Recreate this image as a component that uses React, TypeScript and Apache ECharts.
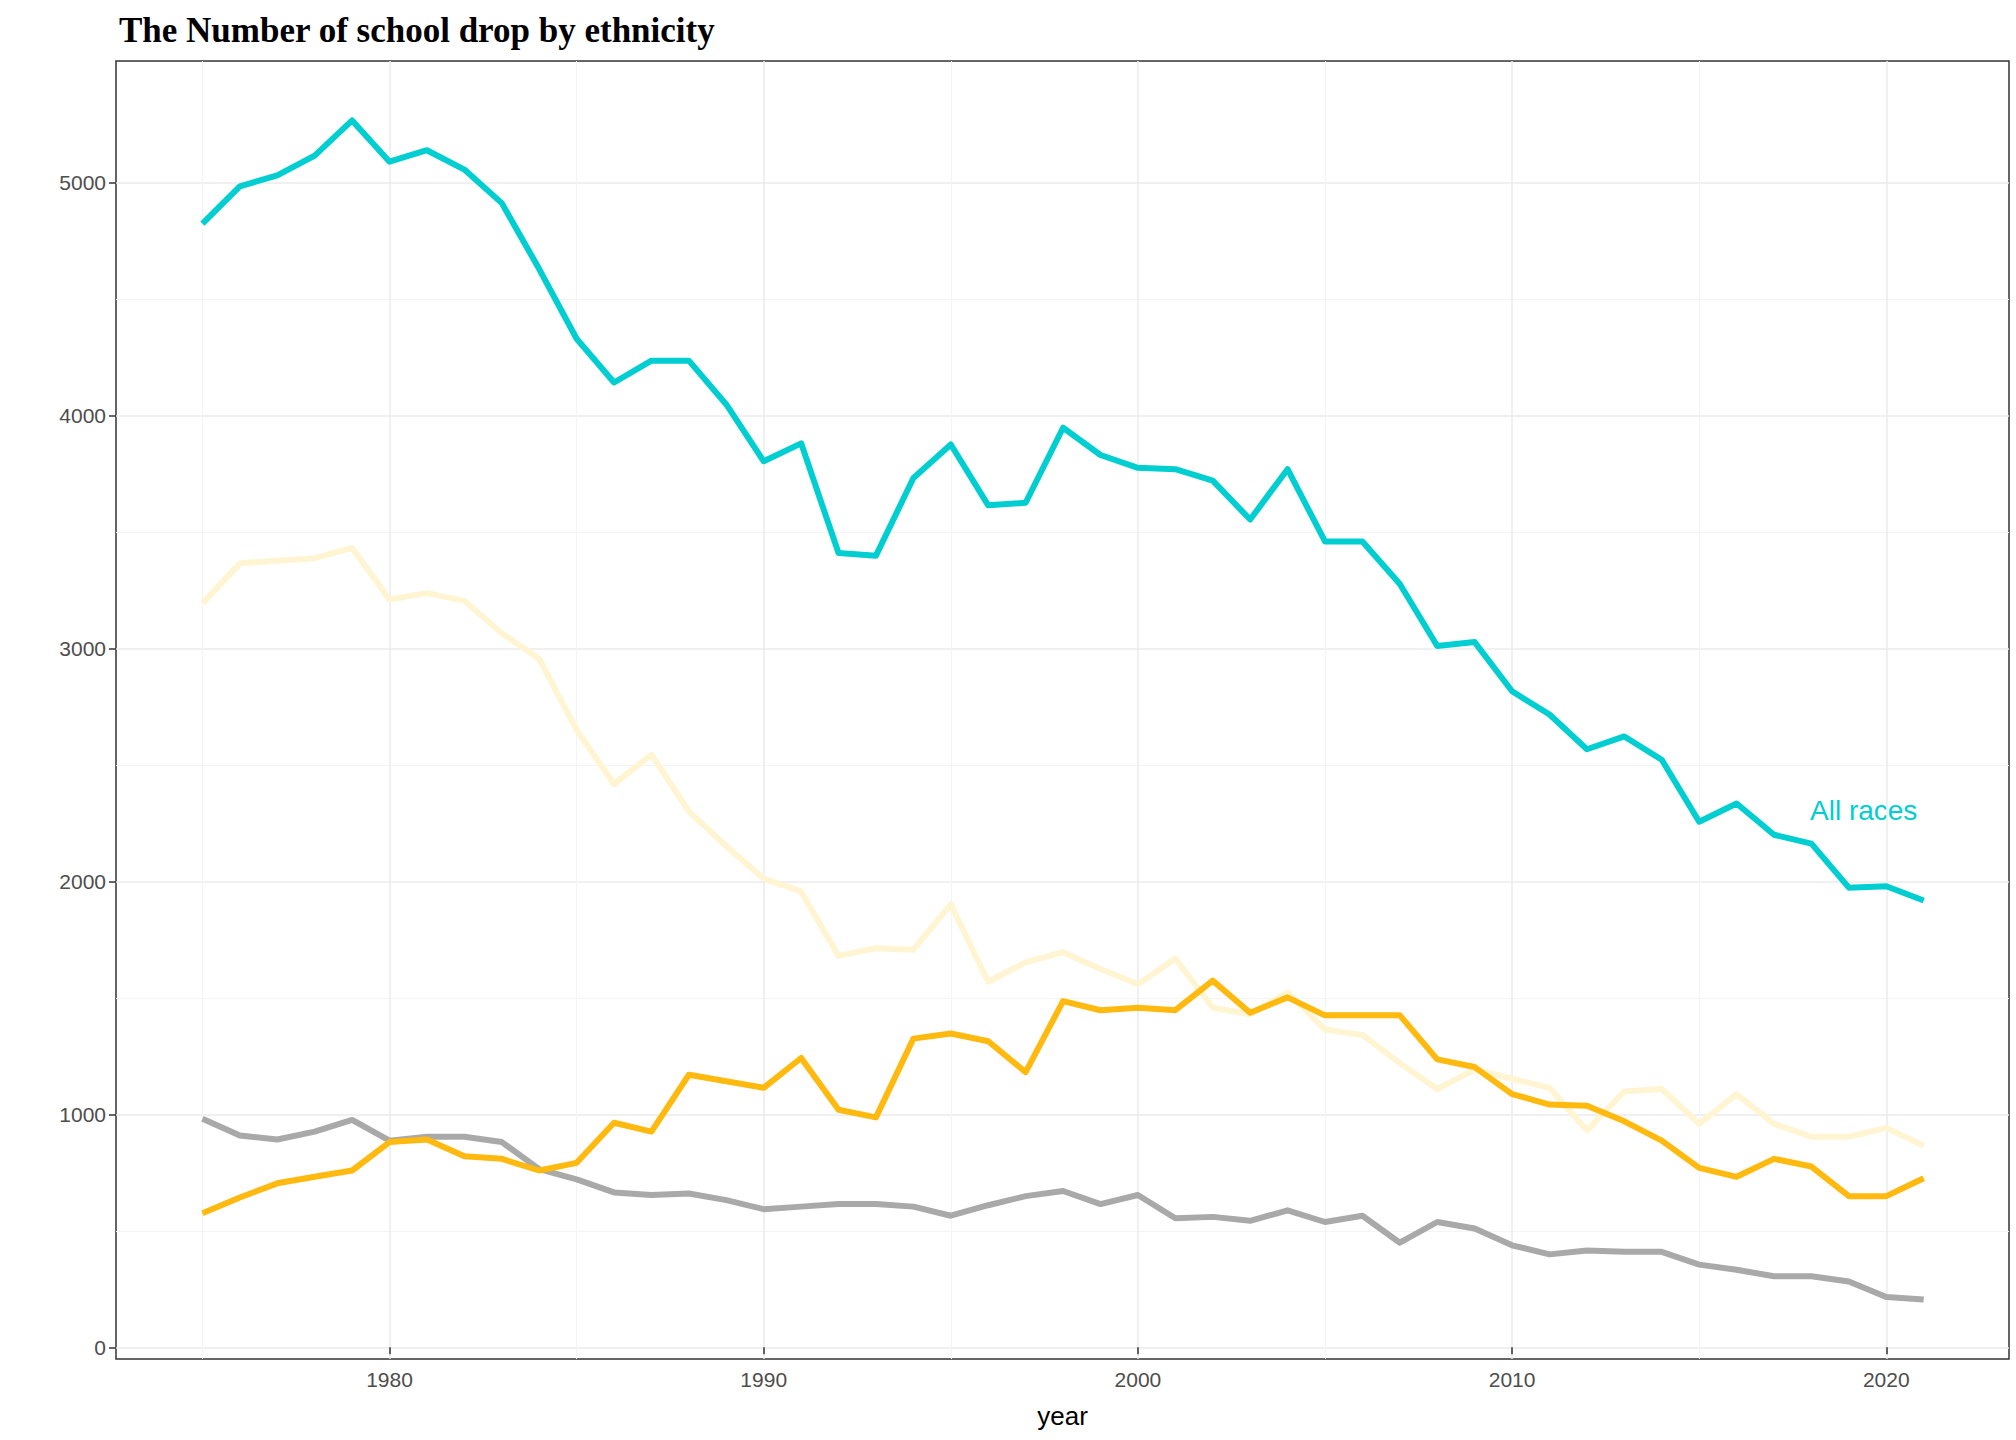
import { useEffect, useRef } from 'react';
import * as echarts from 'echarts';

const years = Array.from({ length: 47 }, (_, i) => 1975 + i);

const allRaces = [4823, 4983, 5030, 5115, 5266, 5089, 5138, 5055, 4911, 4628, 4329, 4141, 4235, 4235, 4047, 3803, 3880, 3409, 3398, 3731, 3875, 3614, 3625, 3947, 3830, 3775, 3769, 3720, 3553, 3769, 3459, 3459, 3276, 3010, 3027, 2816, 2716, 2567, 2622, 2522, 2256, 2334, 2200, 2162, 1973, 1979, 1918];
const cream = [3193, 3365, 3376, 3387, 3431, 3210, 3237, 3204, 3065, 2955, 2650, 2417, 2544, 2300, 2151, 2012, 1957, 1680, 1713, 1707, 1901, 1569, 1652, 1696, 1624, 1558, 1669, 1458, 1430, 1524, 1364, 1341, 1220, 1109, 1192, 1153, 1114, 931, 1098, 1109, 959, 1087, 959, 904, 904, 942, 865];
const orange = [576, 643, 704, 732, 759, 881, 892, 820, 809, 759, 792, 964, 926, 1170, 1142, 1114, 1242, 1020, 987, 1325, 1347, 1314, 1181, 1486, 1447, 1458, 1447, 1574, 1436, 1502, 1425, 1425, 1425, 1236, 1203, 1087, 1042, 1037, 970, 887, 770, 732, 809, 776, 649, 649, 726];
const gray = [981, 909, 892, 926, 976, 887, 904, 904, 881, 765, 721, 665, 654, 660, 632, 593, 604, 615, 615, 604, 565, 610, 649, 671, 615, 654, 554, 560, 543, 588, 538, 565, 449, 538, 510, 438, 399, 416, 410, 410, 355, 333, 305, 305, 283, 216, 205];

const xMajor = [1980, 1990, 2000, 2010, 2020];
const xMinor = [1975, 1985, 1995, 2005, 2015];
const yMajor = [0, 1000, 2000, 3000, 4000, 5000];
const yMinor = [500, 1500, 2500, 3500, 4500];

const X_MIN = 1972.69;
const X_MAX = 2023.28;
const Y_MIN = -50;
const Y_MAX = 5521;

const font = 'Liberation Sans, Arial, sans-serif';

export default function App() {
  const chartRef = useRef<HTMLDivElement>(null);

  useEffect(() => {
    if (!chartRef.current) return;
    document.body.style.margin = '0';
    const chart = echarts.init(chartRef.current, undefined, { renderer: 'svg' });

    const pair = (ys: number[]) => years.map((y, i) => [y, ys[i]]);
    const line = (name: string, ys: number[], color: string) => ({
      name,
      type: 'line' as const,
      data: pair(ys),
      showSymbol: false,
      lineStyle: { color, width: 6, join: 'round' },
      itemStyle: { color },
      z: 3,
    });
    const plain = (v: number) => String(Math.round(v));

    const mainX = {
      type: 'value' as const,
      min: X_MIN,
      max: X_MAX,
      axisLine: { show: false },
      axisTick: { show: true, customValues: xMajor, length: 7, lineStyle: { color: '#333', width: 1.5 } },
      axisLabel: { customValues: xMajor, formatter: plain, color: '#4d4d4d', fontSize: 21, fontFamily: font, margin: 10 },
      splitLine: { show: true, lineStyle: { color: '#ebebeb', width: 1.5 } },
      name: 'year',
      nameLocation: 'middle' as const,
      nameGap: 44,
      nameTextStyle: { color: '#000', fontSize: 26, fontFamily: font },
    };
    const minorX = {
      type: 'value' as const,
      min: X_MIN,
      max: X_MAX,
      position: 'bottom' as const,
      axisLine: { show: false },
      axisTick: { show: false, customValues: xMinor },
      axisLabel: { show: false },
      splitLine: { show: true, lineStyle: { color: '#f4f4f4', width: 1 } },
    };
    const mainY = {
      type: 'value' as const,
      min: Y_MIN,
      max: Y_MAX,
      axisLine: { show: false },
      axisTick: { show: true, customValues: yMajor, length: 7, lineStyle: { color: '#333', width: 1.5 } },
      axisLabel: { customValues: yMajor, formatter: plain, color: '#4d4d4d', fontSize: 21, fontFamily: font, margin: 10 },
      splitLine: { show: true, lineStyle: { color: '#ebebeb', width: 1.5 } },
    };
    const minorY = {
      type: 'value' as const,
      min: Y_MIN,
      max: Y_MAX,
      position: 'left' as const,
      axisLine: { show: false },
      axisTick: { show: false, customValues: yMinor },
      axisLabel: { show: false },
      splitLine: { show: true, lineStyle: { color: '#f4f4f4', width: 1 } },
    };

    chart.setOption({
      animation: false,
      backgroundColor: '#fff',
      title: {
        text: 'The Number of school drop by ethnicity',
        left: 114,
        top: 8,
        textStyle: { fontFamily: 'Liberation Serif, Times New Roman, serif', fontWeight: 'bold', fontSize: 35, color: '#000' },
      },
      grid: { left: 116, right: 7, top: 61, bottom: 81, show: true, borderColor: '#333', borderWidth: 1.5, backgroundColor: 'transparent' },
      xAxis: [mainX, minorX],
      yAxis: [mainY, minorY],
      series: [
        line('Gray', gray, '#a9a9a9'),
        line('Cream', cream, '#fff5d2'),
        line('Orange', orange, '#ffb90f'),
        line('All races', allRaces, '#00ced1'),
      ],
      graphic: [
        {
          type: 'text',
          left: 1810,
          top: 796,
          style: { text: 'All races', fill: '#00ced1', fontSize: 28, fontFamily: font },
        },
      ],
    });

    return () => chart.dispose();
  }, []);

  return <div ref={chartRef} style={{ width: 2016, height: 1440 }} />;
}
